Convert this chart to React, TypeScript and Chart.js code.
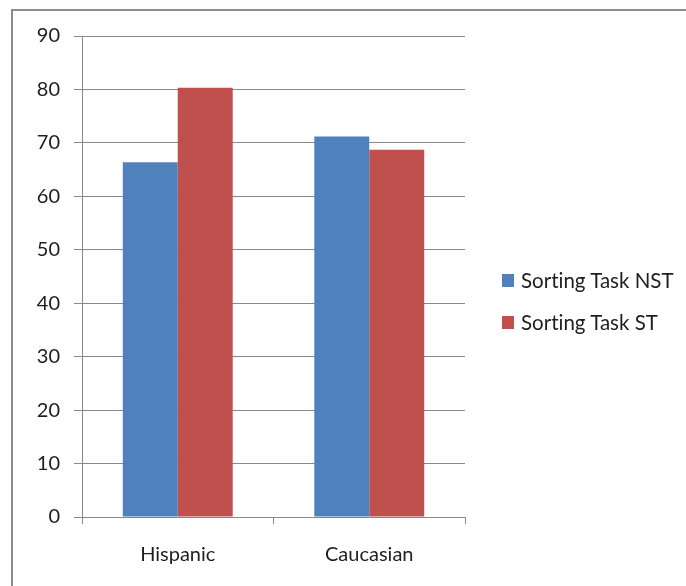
import React, { useEffect, useRef } from "react";
import { Chart, registerables } from "chart.js";

Chart.register(...registerables);

const categories = ["Hispanic", "Caucasian"];
const seriesNames = ["Sorting Task NST", "Sorting Task ST"];
const nstValues = [66.4, 71.2];
const stValues = [80.3, 68.7];
const colors = ["#4F81BD", "#C0504D"];
const yTicks = [0, 10, 20, 30, 40, 50, 60, 70, 80, 90];

const FONT = "Lato, 'Open Sans', sans-serif";
const GRID = "#888888";
const TEXT = "#1e1e1e";

export default function App() {
  const ref = useRef<HTMLCanvasElement | null>(null);

  useEffect(() => {
    if (!ref.current) return;
    const chart = new Chart(ref.current, {
      type: "bar",
      data: {
        labels: categories,
        datasets: [
          { label: seriesNames[0], data: nstValues, backgroundColor: colors[0], barPercentage: 1, categoryPercentage: 0.574 },
          { label: seriesNames[1], data: stValues, backgroundColor: colors[1], barPercentage: 1, categoryPercentage: 0.574 },
        ],
      },
      options: {
        animation: false,
        responsive: false,
        maintainAspectRatio: false,
        layout: { padding: { top: 36, right: 221, left: 0, bottom: 0 } },
        plugins: { legend: { display: false }, tooltip: { enabled: false } },
        scales: {
          x: {
            grid: { drawOnChartArea: false, drawTicks: true, tickLength: 7, color: GRID, offset: true },
            border: { color: GRID, width: 1 },
            ticks: { color: TEXT, font: { family: FONT, size: 20 }, padding: 19 },
            afterFit: (s: any) => { s.height = 69; },
          },
          y: {
            min: 0,
            max: 90,
            afterBuildTicks: (s: any) => { s.ticks = yTicks.map((v) => ({ value: v })); },
            grid: { color: GRID, lineWidth: 1, drawTicks: true, tickLength: 8 },
            border: { color: GRID, width: 1 },
            ticks: { color: TEXT, font: { family: FONT, size: 20 }, padding: 14 },
            afterFit: (s: any) => { s.width = 82; },
          },
        },
      },
    });
    return () => chart.destroy();
  }, []);

  return (
    <div style={{ position: "fixed", left: 0, top: 0, width: 686, height: 586, background: "#ffffff", overflow: "hidden" }}>
      <div style={{ position: "absolute", left: 11, top: 9, width: 700, height: 600, borderLeft: "2px solid #8c8c8c", borderTop: "2px solid #8c8c8c" }} />
      <canvas ref={ref} width={686} height={586} style={{ position: "absolute", left: 0, top: 0 }} />
      <div style={{ position: "absolute", left: 502, top: 268, fontFamily: FONT, fontSize: 20.5, color: TEXT, fontVariantLigatures: "none", whiteSpace: "nowrap" }}>
        {seriesNames.map((n, i) => (
          <div key={n} style={{ display: "flex", alignItems: "center", height: 24, marginBottom: i === 0 ? 18 : 0 }}>
            <span style={{ display: "inline-block", width: 12, height: 13, background: colors[i], marginRight: 7 }} />
            <span>{n}</span>
          </div>
        ))}
      </div>
    </div>
  );
}
